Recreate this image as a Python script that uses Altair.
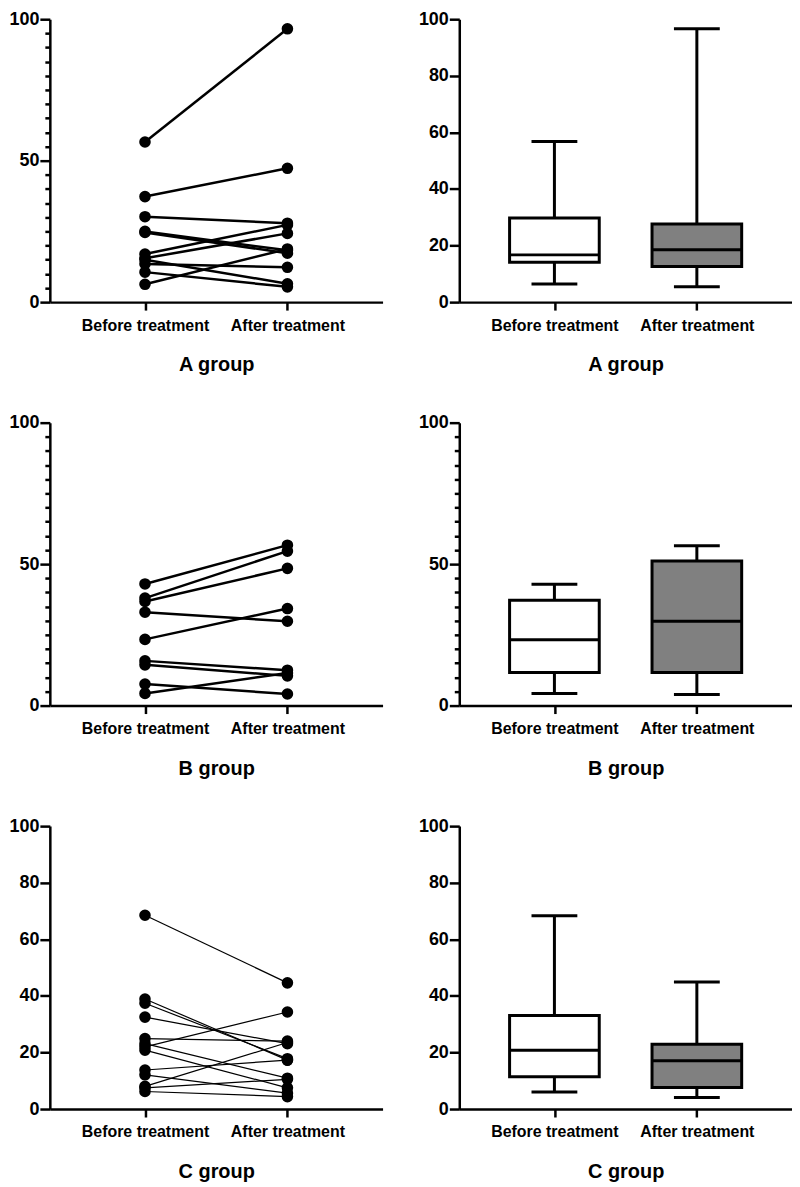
import altair as alt
import pandas as pd

# ---------------- data ----------------
categories = ["Before treatment", "After treatment"]
groups = ["A group", "B group", "C group"]

a_before = [56.6, 37.3, 30.2, 25.0, 24.6, 17.0, 15.5, 6.3, 15.0, 13.5, 10.6]
a_after = [96.6, 47.3, 27.9, 18.3, 17.3, 27.3, 24.3, 18.8, 6.5, 12.3, 5.4]

b_before = [43.0, 38.0, 36.8, 33.0, 23.4, 15.8, 14.4, 7.6, 4.3]
b_after = [56.7, 54.6, 48.5, 29.8, 34.3, 12.5, 10.5, 4.1, 11.5]

c_before = [68.5, 38.9, 37.4, 32.5, 24.9, 22.0, 23.1, 20.8, 13.8, 12.1, 8.0, 7.5, 6.2]
c_after = [44.6, 17.3, 17.8, 23.1, 24.0, 34.3, 10.9, 7.5, 17.3, 5.6, 23.5, 10.5, 4.4]

# box statistics: min, q1, median, q3, max
a_box_before = [6.4, 14.1, 16.7, 29.7, 56.8]
a_box_after = [5.4, 12.6, 18.5, 27.6, 96.6]
b_box_before = [4.3, 11.7, 23.3, 37.2, 42.9]
b_box_after = [3.9, 11.7, 29.8, 51.1, 56.5]
c_box_before = [6.0, 11.4, 20.8, 33.1, 68.3]
c_box_after = [4.1, 7.6, 17.1, 22.9, 44.9]

box_fills = ["#ffffff", "#808080"]

# ---------------- helpers ----------------
FONT = "Liberation Sans"
W, H = 334, 284


def x_enc(title):
    return alt.X(
        "cat:N",
        sort=categories,
        scale=alt.Scale(type="point", padding=0.668),
        axis=alt.Axis(
            title=title,
            labelAngle=0,
            labelFontSize=16,
            labelPadding=7,
            tickSize=8,
            titleFontSize=20,
            titlePadding=22,
        ),
    )


def y_axis(minor):
    if minor:
        return alt.Axis(
            values=list(range(0, 101, 5)),
            labelExpr="datum.value % 50 === 0 ? datum.label : ''",
            tickSize={"condition": {"test": "datum.value % 50 === 0", "value": 10}, "value": 5},
            labelPadding=1,
            title=None,
        )
    return alt.Axis(values=list(range(0, 101, 20)), tickSize=10, labelPadding=1, title=None)


yscale = alt.Scale(domain=[0, 100], nice=False)


def pair_chart(before, after, title, minor, lw):
    rows = []
    for i, (b, a) in enumerate(zip(before, after)):
        rows.append({"sid": i, "cat": categories[0], "v": b})
        rows.append({"sid": i, "cat": categories[1], "v": a})
    df = pd.DataFrame(rows)
    base = alt.Chart(df).encode(
        x=x_enc(title),
        y=alt.Y("v:Q", scale=yscale, axis=y_axis(minor)),
    )
    lines = base.mark_line(color="black", strokeWidth=lw).encode(detail="sid:N")
    pts = base.mark_circle(color="black", opacity=1, size=135)
    return alt.layer(lines, pts).properties(width=W, height=H)


def box_chart(sb, sa, title, minor):
    rows = []
    for cat, s, f in zip(categories, [sb, sa], box_fills):
        rows.append({"cat": cat, "mn": s[0], "q1": s[1], "med": s[2], "q3": s[3], "mx": s[4], "fill": f})
    df = pd.DataFrame(rows)
    base = alt.Chart(df).encode(x=x_enc(title))
    ax = y_axis(minor)
    rule = base.mark_rule(color="black", strokeWidth=3).encode(
        y=alt.Y("mn:Q", scale=yscale, axis=ax), y2="mx:Q"
    )
    box = base.mark_bar(size=90, stroke="black", strokeWidth=3).encode(
        y=alt.Y("q1:Q", scale=yscale, axis=ax), y2="q3:Q", fill=alt.Fill("fill:N", scale=None)
    )
    med = base.mark_tick(size=90, thickness=3, color="black", opacity=1).encode(
        y=alt.Y("med:Q", scale=yscale, axis=ax)
    )
    cap_lo = base.mark_tick(size=46, thickness=3, color="black", opacity=1).encode(
        y=alt.Y("mn:Q", scale=yscale, axis=ax)
    )
    cap_hi = base.mark_tick(size=46, thickness=3, color="black", opacity=1).encode(
        y=alt.Y("mx:Q", scale=yscale, axis=ax)
    )
    return alt.layer(rule, box, med, cap_lo, cap_hi).properties(width=W, height=H)


row_a = alt.hconcat(
    pair_chart(a_before, a_after, groups[0], True, 2.5),
    box_chart(a_box_before, a_box_after, groups[0], False),
    spacing=35,
)
row_b = alt.hconcat(
    pair_chart(b_before, b_after, groups[1], True, 2.5),
    box_chart(b_box_before, b_box_after, groups[1], True),
    spacing=35,
)
row_c = alt.hconcat(
    pair_chart(c_before, c_after, groups[2], False, 1.2),
    box_chart(c_box_before, c_box_after, groups[2], False),
    spacing=35,
)

chart = (
    alt.vconcat(row_a, row_b, row_c, spacing=39, padding=0)
    .configure_view(stroke=None)
    .configure_axis(
        domainColor="black",
        domainWidth=2.5,
        tickColor="black",
        tickWidth=2.5,
        labelColor="black",
        titleColor="black",
        labelFont=FONT,
        titleFont=FONT,
        labelFontWeight="bold",
        titleFontWeight="bold",
        grid=False,
    )
    .configure_axisY(labelFontSize=18)
)

chart.save("out.html", embed_options={"renderer": "svg", "actions": False})
